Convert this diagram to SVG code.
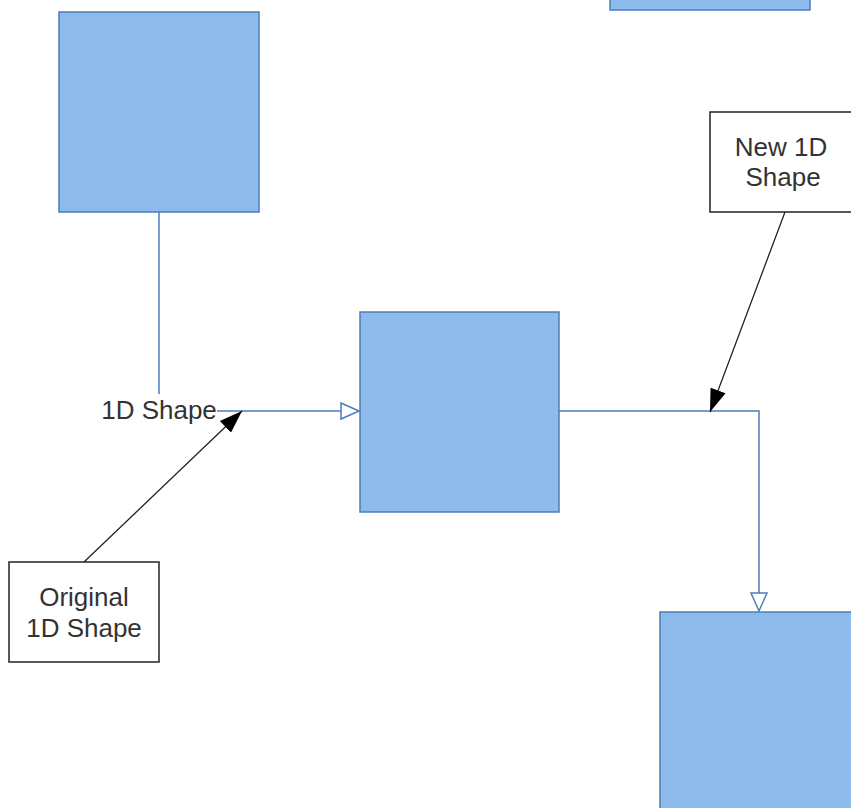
<svg xmlns="http://www.w3.org/2000/svg" width="851" height="808" viewBox="0 0 851 808">
<style>
.shape{fill:#8EBBEB;stroke:#4A7EBB;stroke-width:1.5}
.note{fill:#FFFFFF;stroke:#222222;stroke-width:1.5}
.blue{fill:none;stroke:#4A7EBB;stroke-width:1.5}
.black{fill:none;stroke:#222222;stroke-width:1.3}
text{font-family:"Liberation Sans",Arial,sans-serif;font-size:26px;fill:#333333;text-anchor:middle}
</style>
<defs>
<marker id="open" markerUnits="userSpaceOnUse" markerWidth="22" markerHeight="20" refX="19" refY="9" orient="auto" viewBox="0 0 22 20">
<path d="M1,1 L19,9 L1,17 z" fill="#FFFFFF" stroke="#4A7EBB" stroke-width="1.5"/>
</marker>
<marker id="filled" markerUnits="userSpaceOnUse" markerWidth="24" markerHeight="18" refX="23" refY="9" orient="auto" viewBox="0 0 24 18">
<path d="M0,1 L23,9 L0,17 z" fill="#000000"/>
</marker>
</defs>
<rect width="851" height="808" fill="#FFFFFF"/>
<g id="connectors">
<path class="blue" d="M159,212 L159,394"/>
<path class="blue" d="M217,411 L359,411" marker-end="url(#open)"/>
<path class="blue" d="M559,411 L759,411 L759,611" marker-end="url(#open)"/>
<path class="black" d="M84,562 L242,411" marker-end="url(#filled)"/>
<path class="black" d="M785,212 L710,412" marker-end="url(#filled)"/>
<text id="label-1d" x="159" y="419">1D Shape</text>
</g>
<g id="box-topleft"><rect class="shape" x="59" y="12" width="200" height="200"/></g>
<g id="box-topright"><rect class="shape" x="610" y="-190" width="200" height="200"/></g>
<g id="box-center"><rect class="shape" x="360" y="312" width="199" height="200"/></g>
<g id="box-bottomright"><rect class="shape" x="660" y="612" width="200" height="200"/></g>
<g id="note-original">
<rect class="note" x="9" y="562" width="150" height="100"/>
<text x="84" y="606">Original</text>
<text x="84" y="637">1D Shape</text>
</g>
<g id="note-new">
<rect class="note" x="710" y="112" width="150" height="100"/>
<text x="781" y="156">New 1D</text>
<text x="783" y="186">Shape</text>
</g>
</svg>
